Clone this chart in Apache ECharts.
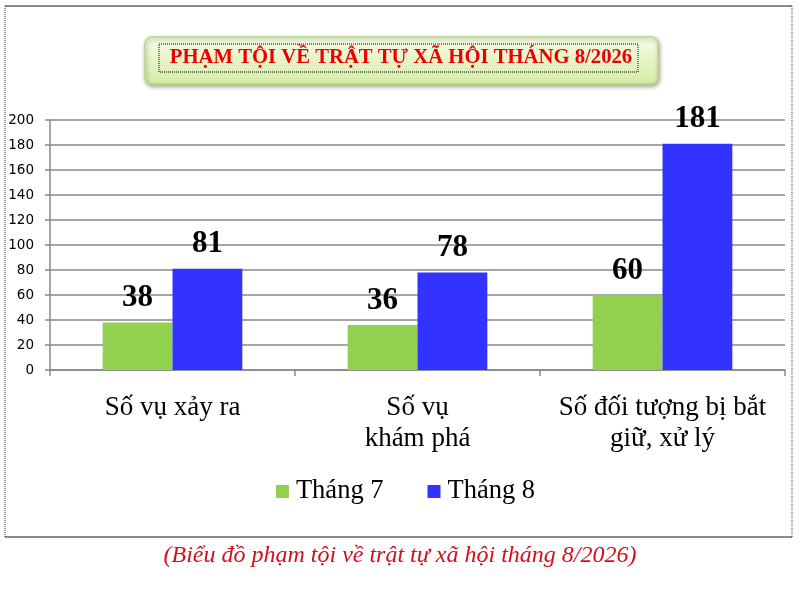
<!DOCTYPE html>
<html>
<head>
<meta charset="utf-8">
<script src="https://cdn.jsdelivr.net/npm/echarts@6/dist/echarts.min.js"></script>
<style>
html,body{margin:0;padding:0;background:#fff;}
#chart{width:811px;height:593px;}
</style>
</head>
<body>
<div id="chart"></div>
<script>
const categories = ['Số vụ xảy ra', 'Số vụ\nkhám phá', 'Số đối tượng bị bắt\ngiữ, xử lý'];
const seriesNames = ['Tháng 7', 'Tháng 8'];
const thang7 = [38, 36, 60];
const thang8 = [81, 78, 181];
const yTicks = [0, 20, 40, 60, 80, 100, 120, 140, 160, 180, 200];
const titleText = 'PHẠM TỘI VỀ TRẬT TỰ XÃ HỘI THÁNG 8/2026';
const captionText = '(Biểu đồ phạm tội về trật tự xã hội tháng 8/2026)';

const chart = echarts.init(document.getElementById('chart'), null, {renderer: 'canvas'});
const serif = '"Liberation Serif", "Times New Roman", serif';
const labelStyle = {
  show: true, position: 'top', distance: 9,
  fontFamily: serif, fontWeight: 'bold', fontSize: 31, color: '#000'
};
chart.setOption({
  animation: false,
  backgroundColor: '#fff',
  graphic: [
    // outer frame
    {type: 'line', shape: {x1: 5, y1: 6, x2: 792, y2: 6}, style: {stroke: '#8a8a8a', lineWidth: 2}},
    {type: 'line', shape: {x1: 5, y1: 537, x2: 792, y2: 537}, style: {stroke: '#8a8a8a', lineWidth: 2}},
    {type: 'line', shape: {x1: 5, y1: 6, x2: 5, y2: 537}, style: {stroke: '#333', lineWidth: 1, lineDash: [1, 1]}},
    {type: 'line', shape: {x1: 792, y1: 6, x2: 792, y2: 537}, style: {stroke: '#333', lineWidth: 1, lineDash: [1, 1]}},
    // title box
    {type: 'rect', shape: {x: 145, y: 37, width: 513, height: 47, r: 7},
     style: {
       fill: new echarts.graphic.LinearGradient(0, 0, 0, 1, [
         {offset: 0, color: '#f7fce9'}, {offset: 1, color: '#d5eca4'}
       ]),
       stroke: '#b9d982', lineWidth: 1.5,
       shadowBlur: 4, shadowOffsetX: 1, shadowOffsetY: 2, shadowColor: 'rgba(0,0,0,0.35)'
     }, z: 10},
    {type: 'rect', shape: {x: 159, y: 44, width: 479, height: 28},
     style: {fill: 'none', stroke: '#000', lineWidth: 1, lineDash: [1, 1]}, z: 11},
    {type: 'text', x: 401, y: 58, z: 12,
     style: {text: titleText, fontFamily: serif, fontWeight: 'bold', fontSize: 20.7,
             fill: '#ee0000', align: 'center', verticalAlign: 'middle'}},
    // caption
    {type: 'text', x: 400, y: 556, z: 12,
     style: {text: captionText, fontFamily: serif, fontStyle: 'italic', fontSize: 24,
             fill: '#d0111b', align: 'center', verticalAlign: 'middle'}}
  ],
  grid: {left: 50, right: 26, top: 120, bottom: 223, containLabel: false},
  legend: {
    data: seriesNames,
    left: 'center', top: 473,
    itemWidth: 13, itemHeight: 13, itemGap: 44,
    icon: 'rect',
    textStyle: {fontFamily: serif, fontSize: 26.5, color: '#000', padding: [0, 0, 0, 2]}
  },
  xAxis: {
    type: 'category',
    data: categories,
    axisLine: {lineStyle: {color: '#888', width: 1.5}},
    axisTick: {show: true, length: 6, lineStyle: {color: '#888', width: 1.5}},
    axisLabel: {fontFamily: serif, fontSize: 27, color: '#000', margin: 22, lineHeight: 31, interval: 0}
  },
  yAxis: {
    type: 'value',
    min: 0, max: 200, interval: 20,
    axisLine: {show: true, lineStyle: {color: '#888', width: 1.5}},
    axisTick: {show: true, length: 5, lineStyle: {color: '#888', width: 1.5}},
    axisLabel: {fontFamily: 'Tahoma, "DejaVu Sans", Verdana, sans-serif', fontSize: 13.5, color: '#000', margin: 16,
      formatter: v => yTicks.includes(v) ? String(v) : ''},
    splitLine: {lineStyle: {color: '#888', width: 1.5}}
  },
  series: [
    {name: seriesNames[0], type: 'bar', data: thang7, barGap: '0%', barCategoryGap: '43%',
     itemStyle: {color: '#92d050'}, label: labelStyle},
    {name: seriesNames[1], type: 'bar', data: thang8, barGap: '0%', barCategoryGap: '43%',
     itemStyle: {color: '#3333ff'}, label: labelStyle}
  ]
});
</script>
</body>
</html>
